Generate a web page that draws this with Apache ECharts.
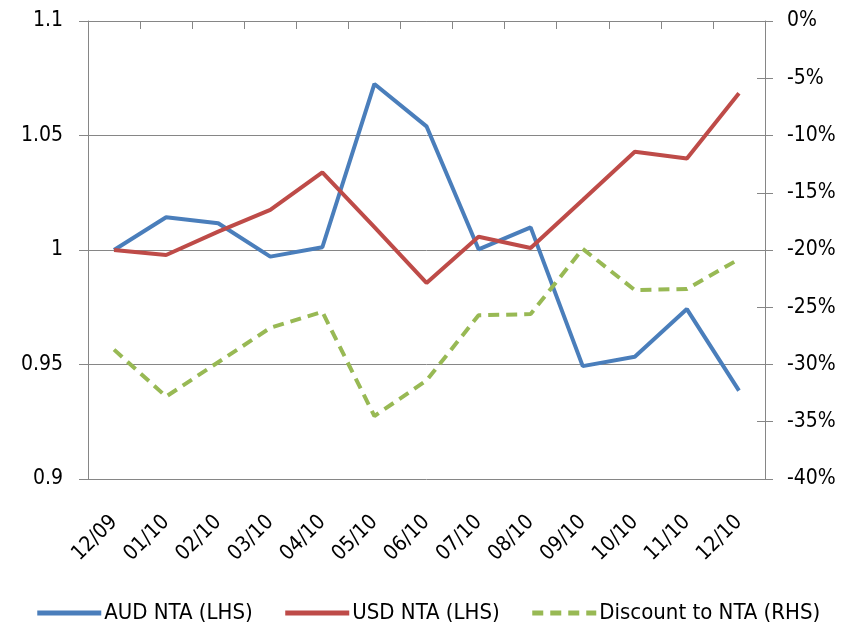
<!DOCTYPE html>
<html>
<head>
<meta charset="utf-8">
<script src="https://cdn.jsdelivr.net/npm/echarts@6/dist/echarts.min.js"></script>
<style>
  html, body { margin: 0; padding: 0; background: #fff; }
  #chart { width: 855px; height: 625px; }
</style>
</head>
<body>
<div id="chart"></div>
<script>
const categories = ['12/09', '01/10', '02/10', '03/10', '04/10', '05/10', '06/10',
                    '07/10', '08/10', '09/10', '10/10', '11/10', '12/10'];
const audNta = [1.000, 1.0143, 1.0117, 0.9971, 1.0012, 1.0725, 1.054,
                1.0003, 1.0099, 0.9493, 0.9534, 0.9742, 0.9386];
const usdNta = [1.000, 0.9978, 1.008, 1.0175, 1.0339, 1.010, 0.9856,
                1.0058, 1.0009, 1.0218, 1.0429, 1.040, 1.0684];
const discount = [-0.287, -0.328, -0.298, -0.268, -0.254, -0.345, -0.314,
                  -0.257, -0.256, -0.199, -0.235, -0.234, -0.208];

const FONT = '"DejaVu Sans Condensed", "Liberation Sans Narrow", "Liberation Sans", sans-serif';
const AXIS = '#868686';

const chart = echarts.init(document.getElementById('chart'));
chart.setOption({
  animation: false,
  backgroundColor: '#fff',
  textStyle: { fontFamily: FONT },
  grid: { left: 88, right: 90, top: 21, bottom: 146 },
  legend: {
    top: 597,
    left: 'center',
    itemWidth: 64,
    itemHeight: 6,
    itemGap: 30,
    itemStyle: { opacity: 0 },
    lineStyle: { width: 5 },
    textStyle: { fontFamily: FONT, fontSize: 22, color: '#000', padding: [0, 0, 0, -2] },
    data: ['AUD NTA (LHS)', 'USD NTA (LHS)', 'Discount to NTA (RHS)']
  },
  xAxis: {
    type: 'category',
    data: categories,
    boundaryGap: true,
    axisLine: { lineStyle: { color: AXIS, width: 1 } },
    axisTick: { show: true, length: 8, lineStyle: { color: AXIS } },
    axisLabel: { rotate: 45, fontSize: 21, color: '#000', margin: 40, fontFamily: FONT }
  },
  yAxis: [
    {
      type: 'value',
      min: 0.9, max: 1.1, interval: 0.05,
      axisLine: { show: true, lineStyle: { color: AXIS } },
      axisTick: { show: true, length: 9, lineStyle: { color: AXIS } },
      splitLine: { show: true, lineStyle: { color: AXIS, width: 1 } },
      axisLabel: {
        fontSize: 21, color: '#000', margin: 25, fontFamily: FONT,
        formatter: v => String(Math.round(v * 100) / 100)
      }
    },
    {
      type: 'value',
      min: -0.4, max: 0, interval: 0.05,
      position: 'right',
      axisLine: { show: true, lineStyle: { color: AXIS } },
      axisTick: { show: true, length: 8, lineStyle: { color: AXIS } },
      splitLine: { show: false },
      axisLabel: {
        fontSize: 21, color: '#000', margin: 22, fontFamily: FONT,
        formatter: v => Math.round(v * 100) + '%'
      }
    },
    {
      // inner half of the crossing ticks on the right-hand axis
      type: 'value',
      min: -0.4, max: 0, interval: 0.05,
      position: 'right',
      axisLine: { show: false },
      axisTick: { show: true, inside: true, length: 8, lineStyle: { color: AXIS } },
      splitLine: { show: false },
      axisLabel: { show: false }
    }
  ],
  series: [
    {
      name: 'AUD NTA (LHS)', type: 'line', yAxisIndex: 0, data: audNta,
      symbol: 'none', color: '#4a7ebb',
      lineStyle: { width: 4, color: '#4a7ebb' }
    },
    {
      name: 'USD NTA (LHS)', type: 'line', yAxisIndex: 0, data: usdNta,
      symbol: 'none', color: '#be4b48',
      lineStyle: { width: 4, color: '#be4b48' }
    },
    {
      name: 'Discount to NTA (RHS)', type: 'line', yAxisIndex: 1, data: discount,
      symbol: 'none', color: '#98b954',
      lineStyle: { width: 4, color: '#98b954', type: [11, 7] }
    }
  ]
});
</script>
</body>
</html>
